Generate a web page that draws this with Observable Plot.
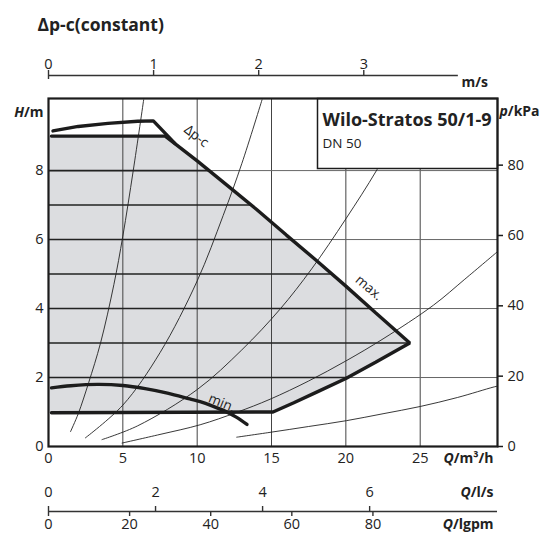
<!DOCTYPE html>
<html><head><meta charset="utf-8">
<script src="https://cdn.jsdelivr.net/npm/d3@7"></script>
<script src="https://cdn.jsdelivr.net/npm/@observablehq/plot@0.6"></script>
<style>body{margin:0;background:#fff} svg{display:block}</style>
</head><body><div id="chart"></div><script>
// ---- texts & ticks ----
const title = "Δp-c(constant)";
const pumpName = "Wilo-Stratos 50/1-9";
const pumpDN = "DN 50";
const qTicks = [0, 5, 10, 15, 20, 25];
const hTicks = [0, 2, 4, 6, 8];
const kpaTicks = [0, 20, 40, 60, 80];
const msTicks = [0, 1, 2, 3];
const lsTicks = [0, 2, 4, 6];
const igpmTicks = [0, 20, 40, 60, 80];
const qGrid = [5, 10, 15, 20, 25];
const hGridFull = [2, 4, 6, 8];
const hGridArea = [2, 3, 4, 5, 6, 7, 8];

// ---- curves (Q in m³/h, H in m) ----
const maxQ = [0.2, 7.85, 10, 12, 14, 16, 18, 20, 22, 24.3];
const maxH = [9.0, 9.0, 8.28, 7.58, 6.87, 6.13, 5.4, 4.65, 3.88, 3.0];
const lowQ = [24.3, 22, 20, 18, 16.5, 15.1, 0.2];
const lowH = [3.0, 2.44, 1.97, 1.57, 1.27, 1.0, 0.98];
const dpcQ = [0.3, 2, 4, 6, 7.05, 8.5];
const dpcH = [9.15, 9.28, 9.37, 9.43, 9.44, 8.79];
const minQ = [0.2, 1.5, 3.3, 5, 6.5, 8, 9.5, 10.2, 11, 11.8, 12.6, 13.35];
const minH = [1.70, 1.76, 1.80, 1.77, 1.68, 1.55, 1.38, 1.30, 1.18, 1.04, 0.86, 0.64];
const sys1Q = [1.48, 2.0, 2.7, 3.5, 4.4, 5.0, 5.7, 6.4];
const sys1H = [0.43, 0.95, 1.85, 3.0, 4.7, 6.1, 8.0, 10.05];
const sys2Q = [2.48, 5, 7.5, 10, 11.75, 13, 14.36];
const sys2H = [0.25, 1.2, 2.72, 4.8, 6.7, 8.2, 10.05];
const sys3Q = [3.6, 6, 10, 13, 15.57, 17.7, 20, 22.1, 24.7];
const sys3H = [0.2, 0.6, 1.65, 2.8, 3.98, 5.15, 6.6, 8.03, 10.05];
const sys4Q = [4.95, 7.5, 10.2, 12.66, 14.9, 17.5, 20, 22.5, 25.9, 28, 30.2];
const sys4H = [0.1, 0.35, 0.63, 0.99, 1.37, 1.9, 2.48, 3.12, 4.1, 4.85, 5.65];
const sys5Q = [12.66, 14.9, 17.5, 20.05, 22.5, 25, 27.5, 29.9, 30.2];
const sys5H = [0.27, 0.41, 0.58, 0.75, 0.95, 1.16, 1.42, 1.72, 1.75];

const curveLabels = [
  {text: "Δp-c", q: 9.95, h: 9.0, angle: 38},
  {text: "max.", q: 21.55, h: 4.6, angle: 40},
  {text: "min.", q: 11.66, h: 1.26, angle: 22}
];

// ---- unit conversions (DN 50 pipe) ----
const pipeArea = Math.PI * 0.025 ** 2;
const msToQ = v => v * pipeArea * 3600;
const lsToQ = v => v * 3.6;
const igpmToQ = v => v * 0.272765;
const kpaToH = p => p / 9.80665;
const msAxisMax = 3.9;

const pts = (Q, Hs) => Q.map((q, i) => ({q, h: Hs[i]}));
const region = [{q: 0, h: maxH[0]}, ...pts(maxQ, maxH), ...pts(lowQ, lowH), {q: 0, h: lowH[lowH.length - 1]}];
const outline = [...pts(maxQ, maxH), ...pts(lowQ, lowH).slice(1)];

function interpX(Qs, Hs, h) {
  for (let i = 0; i < Qs.length - 1; i++) {
    const a = Hs[i], b = Hs[i + 1];
    if ((a - h) * (b - h) <= 0 && a !== b) return Qs[i] + (h - a) / (b - a) * (Qs[i + 1] - Qs[i]);
  }
  return 0;
}
const boundaryX = h => h >= lowH[0] ? interpX(maxQ.slice(1), maxH.slice(1), h) : interpX(lowQ, lowH, h);

const xDomain = [0, 30.2], yDomain = [0, 10.09];
const ink = "#1c1c1c";
const thin = {x: "q", y: "h", stroke: "#222", strokeWidth: 0.9, curve: "catmull-rom", clip: true};
const unitFont = {fontWeight: "bold", fontSize: 14};

const chart = Plot.plot({
  width: 545, height: 540,
  marginLeft: 48, marginRight: 48, marginTop: 98, marginBottom: 94,
  x: {domain: xDomain, axis: null},
  y: {domain: yDomain, axis: null},
  style: {fontFamily: "'Open Sans', sans-serif", fontSize: "14.5px", background: "white", color: "#222"},
  marks: [
    Plot.line(region, {x: "q", y: "h", fill: "#dcdde0", stroke: "none"}),
    Plot.ruleX(qGrid, {stroke: "#444", strokeWidth: 1}),
    Plot.ruleY(hGridFull, {stroke: "#666", strokeWidth: 1}),
    Plot.ruleY(hGridArea, {y: d => d, x1: 0, x2: d => boundaryX(d), stroke: "#222", strokeWidth: 1.6}),
    Plot.line(pts(sys1Q, sys1H), thin),
    Plot.line(pts(sys2Q, sys2H), thin),
    Plot.line(pts(sys3Q, sys3H), thin),
    Plot.line(pts(sys4Q, sys4H), thin),
    Plot.line(pts(sys5Q, sys5H), thin),
    Plot.line(outline, {x: "q", y: "h", stroke: ink, strokeWidth: 3.4, strokeLinejoin: "miter"}),
    Plot.line(pts(dpcQ, dpcH), {x: "q", y: "h", stroke: ink, strokeWidth: 3.4, strokeLinejoin: "round"}),
    Plot.line(pts(minQ, minH), {x: "q", y: "h", stroke: ink, strokeWidth: 3.4, curve: "catmull-rom"}),
    Plot.text(curveLabels, {x: "q", y: "h", text: "text", rotate: "angle", fontSize: 13.5, fill: "#222"}),
    // legend box
    Plot.frame({fill: "white", stroke: ink, strokeWidth: 1.5, insetLeft: 269, insetBottom: 278}),
    Plot.text([pumpName], {frameAnchor: "top-left", dx: 274, dy: 15, textAnchor: "start", fontWeight: "bold", fontSize: 18}),
    Plot.text([pumpDN], {frameAnchor: "top-left", dx: 274, dy: 40, textAnchor: "start", fontSize: 13.5}),
    Plot.frame({stroke: ink, strokeWidth: 2.2}),
    // left axis
    Plot.text(hTicks, {y: d => d, frameAnchor: "left", textAnchor: "end", dx: -5}),
    Plot.text(["H/m"], {frameAnchor: "top-left", textAnchor: "end", dx: -5, dy: 9, ...unitFont}),
    // right axis
    Plot.ruleY(kpaTicks, {y: kpaToH, insetLeft: 449, insetRight: -6, stroke: ink, strokeWidth: 1.5}),
    Plot.text(kpaTicks, {y: kpaToH, frameAnchor: "right", textAnchor: "start", dx: 10}),
    Plot.text(["p/kPa"], {frameAnchor: "top-right", textAnchor: "start", dx: 2, dy: 8, ...unitFont}),
    // bottom Q axis
    Plot.text(qTicks, {x: d => d, frameAnchor: "bottom", dy: 16}),
    Plot.text(["Q/m³/h"], {frameAnchor: "bottom-right", textAnchor: "end", dx: -4, dy: 16, ...unitFont}),
    // top m/s axis
    Plot.ruleY([yDomain[1]], {x1: 0, x2: msToQ(msAxisMax), dy: -23, stroke: "#333", strokeWidth: 1.4}),
    Plot.ruleX(msTicks.slice(1), {x: msToQ, insetTop: -28, insetBottom: 371, stroke: "#333", strokeWidth: 1.4}),
    Plot.ruleX(msTicks.slice(0, 1), {x: msToQ, insetTop: -28, insetBottom: 367, stroke: "#333", strokeWidth: 1.4}),
    Plot.text(msTicks, {x: msToQ, frameAnchor: "top", dy: -40}),
    Plot.text(["m/s"], {frameAnchor: "top-right", textAnchor: "start", dx: -36, dy: -21, ...unitFont}),
    // bottom l/s & igpm axis
    Plot.ruleY([yDomain[0]], {x1: 0, x2: xDomain[1], dy: 65, stroke: "#333", strokeWidth: 1.4}),
    Plot.ruleX(lsTicks.slice(1), {x: lsToQ, insetTop: 408, insetBottom: -65, stroke: "#333", strokeWidth: 1.4}),
    Plot.ruleX(igpmTicks.slice(1), {x: igpmToQ, insetTop: 413, insetBottom: -70, stroke: "#333", strokeWidth: 1.4}),
    Plot.ruleX([0], {insetTop: 408, insetBottom: -70, stroke: "#333", strokeWidth: 1.4}),
    Plot.text(lsTicks, {x: lsToQ, frameAnchor: "bottom", dy: 50}),
    Plot.text(["Q/l/s"], {frameAnchor: "bottom-right", textAnchor: "end", dx: -4, dy: 50, ...unitFont}),
    Plot.text(igpmTicks, {x: igpmToQ, frameAnchor: "bottom", dy: 82}),
    Plot.text(["Q/lgpm"], {frameAnchor: "bottom-right", textAnchor: "end", dx: -4, dy: 82, ...unitFont}),
    // title
    Plot.text([title], {frameAnchor: "top-left", textAnchor: "start", dx: -11, dy: -80, fontWeight: "bold", fontSize: 17.5})
  ]
});

// italic quantity symbols in unit labels
const italicParts = {"H/m": ["H", "/m"], "p/kPa": ["p", "/kPa"], "Q/m³/h": ["Q", "/m³/h"], "Q/l/s": ["Q", "/l/s"], "Q/lgpm": ["Q", "/lgpm"]};
d3.select(chart).selectAll("text").each(function () {
  const parts = italicParts[this.textContent];
  if (parts && this.children.length === 0) {
    this.textContent = "";
    d3.select(this).append("tspan").attr("font-style", "italic").text(parts[0]);
    d3.select(this).append("tspan").text(parts[1]);
  }
});
document.getElementById("chart").append(chart);
</script></body></html>
